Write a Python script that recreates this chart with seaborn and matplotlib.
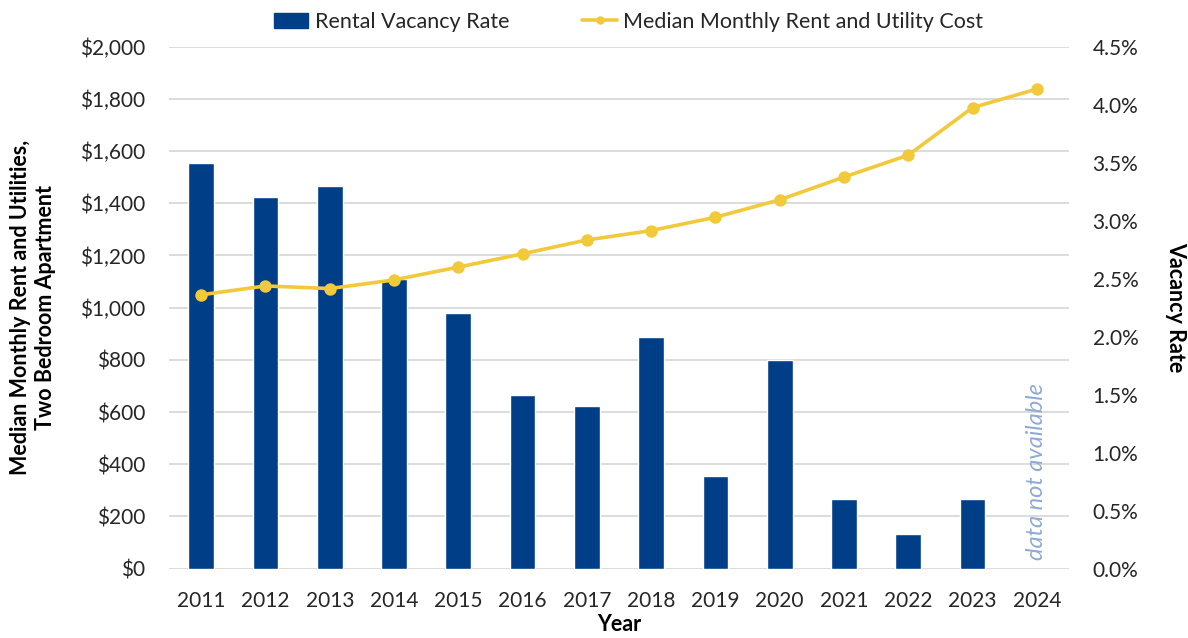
import numpy as np
import pandas as pd
import matplotlib
matplotlib.use("Agg")
import matplotlib.pyplot as plt
from matplotlib.lines import Line2D
from matplotlib.patches import Patch
from matplotlib.ticker import FuncFormatter, MultipleLocator
import seaborn as sns

years = ["2011", "2012", "2013", "2014", "2015", "2016", "2017",
         "2018", "2019", "2020", "2021", "2022", "2023", "2024"]
vacancy_rate = [3.5, 3.2, 3.3, 2.5, 2.2, 1.5, 1.4, 2.0, 0.8, 1.8, 0.6, 0.3, 0.6, np.nan]
rent_cost = [1049, 1083, 1073, 1106, 1155, 1206, 1259, 1295, 1346, 1413, 1500, 1584, 1766, 1837]

bar_color = "#003f87"
line_color = "#f1c93b"
grid_color = "#d9d9d9"
text_color = "#262626"
note_color = "#8faad4"

sns.set_theme(style="white")
plt.rcParams["font.family"] = ["Lato", "DejaVu Sans"]

df = pd.DataFrame({"Year": years, "Vacancy": vacancy_rate, "Rent": rent_cost})

fig = plt.figure(figsize=(11.88, 6.38), dpi=100)
ax = fig.add_axes([0.1423, 0.1086, 0.7575, 0.8185])
ax2 = ax.twinx()

# vacancy bars on the right-hand axis
sns.barplot(data=df, x="Year", y="Vacancy", order=years, color=bar_color,
            width=0.4, saturation=1, ax=ax2, errorbar=None)
# rent line on the left-hand axis, drawn above the bars
sns.pointplot(data=df, x="Year", y="Rent", order=years, color=line_color,
              markers="o", markersize=7, linewidth=2.6, ax=ax, errorbar=None)

ax.set_zorder(ax2.get_zorder() + 1)
ax.patch.set_visible(False)

ax.set_xlim(-0.5, len(years) - 0.5)
ax.set_ylim(0, 2000)
ax2.set_ylim(0, 4.5)
ax.yaxis.set_major_locator(MultipleLocator(200))
ax2.yaxis.set_major_locator(MultipleLocator(0.5))
ax.yaxis.set_major_formatter(FuncFormatter(lambda v, p: f"${v:,.0f}"))
ax2.yaxis.set_major_formatter(FuncFormatter(lambda v, p: f"{v:.1f}%"))

# horizontal gridlines follow the dollar ticks, placed beneath the bars
for v in np.arange(0, 2001, 200):
    ax2.axhline(v / 2000 * 4.5, color=grid_color, lw=1.3, zorder=0)

for a in (ax, ax2):
    for s in a.spines.values():
        s.set_visible(False)
    a.tick_params(length=0, labelsize=15, colors=text_color)

ax.tick_params(axis="y", pad=17)
ax.tick_params(axis="x", pad=16)
ax2.tick_params(axis="y", pad=17)

ax.set_xlabel("Year", fontsize=15.5, fontweight="bold", color="black")
ax.xaxis.set_label_coords(0.5, -0.126)
ax.xaxis.label.set_va("bottom")
ax2.set_xlabel("")

ax.set_ylabel("Median Monthly Rent and Utilities,\nTwo Bedroom Apartment",
              fontsize=15.5, fontweight="bold", color="black", linespacing=1.2)
ax.yaxis.set_label_coords(-0.151, 0.5)
ax.yaxis.label.set_va("center")

ax2.set_ylabel("Vacancy Rate", fontsize=15.5, fontweight="bold", color="black",
               rotation=270)
ax2.yaxis.set_label_coords(1.118, 0.5)
ax2.yaxis.label.set_va("center")

# note for the year without vacancy data
ax2.text(13, 0.075, "data not available", rotation=90, ha="center", va="bottom",
         fontsize=17, fontstyle="italic", color=note_color)

handles = [Patch(facecolor=bar_color, edgecolor=bar_color),
           Line2D([0], [0], color=line_color, lw=2.6, marker="o", markersize=5)]
labels = ["Rental Vacancy Rate", "Median Monthly Rent and Utility Cost"]
fig.legend(handles, labels, loc="center", bbox_to_anchor=(0.529, 0.966), ncol=2,
           frameon=False, fontsize=15.5, handlelength=1.6, handletextpad=0.3,
           columnspacing=3.4, labelcolor=text_color)

fig.savefig("out.png", dpi=100)
